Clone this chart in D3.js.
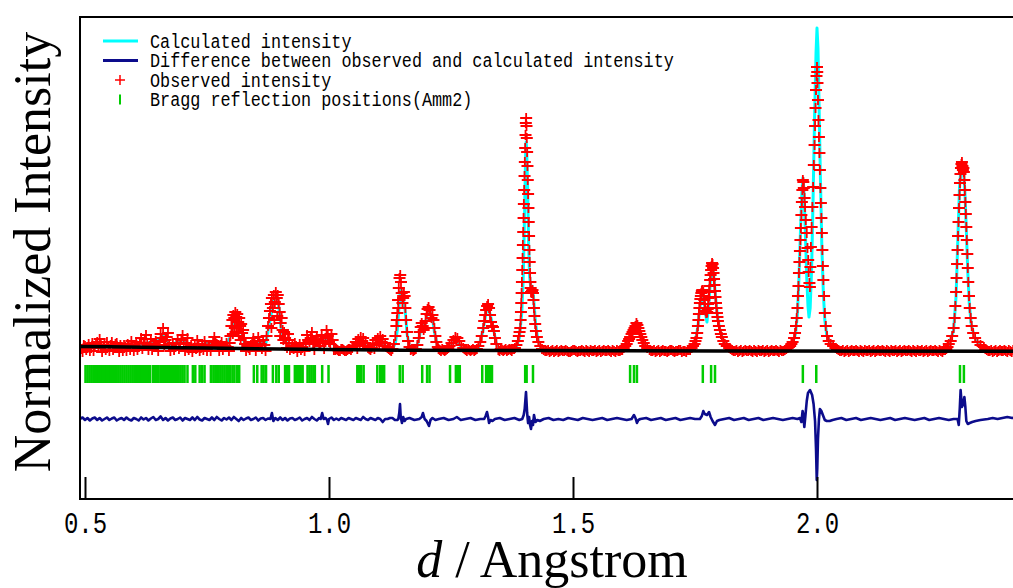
<!DOCTYPE html>
<html>
<head>
<meta charset="utf-8">
<script src="https://cdn.jsdelivr.net/npm/d3@7"></script>
<style>
	body { margin: 0; background: #fff; }
	svg { display: block; }
</style>
</head>
<body>
<script>
// [d (Angstrom), intensity]
var observed = [
	[0.490,0],[0.495,-4],[0.500,2],[0.505,1],[0.510,-3],[0.515,5],[0.520,1],[0.525,6],[0.530,9],[0.535,-4],
	[0.540,3],[0.545,6],[0.550,-3],[0.555,6],[0.560,2],[0.565,5],[0.570,-4],[0.575,1],[0.580,3],[0.585,-3],
	[0.590,2],[0.595,7],[0.600,-3],[0.605,6],[0.610,1],[0.615,10],[0.620,5],[0.625,13],[0.630,-2],[0.635,9],
	[0.640,2],[0.645,7],[0.650,-3],[0.655,14],[0.660,20],[0.665,8],[0.670,15],[0.675,-3],[0.680,5],[0.685,1],
	[0.690,9],[0.695,4],[0.700,13],[0.705,-3],[0.710,10],[0.715,0],[0.720,-4],[0.725,3],[0.730,8],[0.735,-3],
	[0.740,3],[0.745,7],[0.750,-3],[0.755,2],[0.760,3],[0.765,11],[0.770,4],[0.775,-3],[0.780,6],[0.785,1],
	[0.790,5],[0.795,-3],
	[0.4925,-1],[0.4975,3],[0.5025,-2],[0.5075,4],[0.5125,0],[0.5175,-3],[0.5225,4],[0.5275,0],[0.5325,3],[0.5375,1],
	[0.5425,-2],[0.5475,2],[0.5525,3],[0.5575,-2],[0.5625,4],[0.5675,0],[0.5725,3],[0.5775,-3],[0.5825,1],[0.5875,4],
	[0.5925,-2],[0.5975,3],[0.6025,1],[0.6075,-2],[0.6125,5],[0.6175,-1],[0.6225,9],[0.6275,4],[0.6325,2],[0.6375,-2],
	[0.6425,4],[0.6475,1],[0.6525,6],[0.6575,10],[0.6625,3],[0.6675,11],[0.6725,4],[0.6775,1],[0.6825,-2],[0.6875,5],
	[0.6925,-1],[0.6975,8],[0.7025,4],[0.7075,5],[0.7125,-2],[0.7175,3],[0.7225,0],[0.7275,-1],[0.7325,4],[0.7375,0],
	[0.7425,-2],[0.7475,3],[0.7525,1],[0.7575,-3],[0.7625,7],[0.7675,6],[0.7725,1],[0.7775,3],[0.7825,-2],[0.7875,2],
	[0.7925,1],[0.7965,5],
	[0.798,12],[0.800,22],[0.802,28],[0.803,14],[0.804,33],[0.806,30],[0.807,20],[0.808,36],[0.810,31],[0.811,16],
	[0.812,34],[0.814,26],[0.815,12],[0.816,30],[0.818,22],[0.819,8],[0.820,24],[0.822,15],[0.824,18],[0.826,10],
	[0.828,4],[0.830,-3],[0.835,0],[0.840,3],[0.845,10],[0.850,-3],[0.855,11],[0.860,4],[0.865,8],[0.870,-3],
	[0.8325,2],[0.8375,-2],[0.8425,6],[0.8475,4],[0.8525,2],[0.8575,7],[0.8625,-1],[0.8675,3],
	[0.872,12],[0.875,22],[0.877,30],[0.879,37],[0.881,44],[0.882,20],[0.883,50],[0.885,40],[0.887,53],[0.888,28],
	[0.889,46],[0.891,56],[0.893,50],[0.894,32],[0.895,53],[0.897,44],[0.899,36],[0.900,12],[0.901,25],[0.903,30],
	[0.905,18],[0.908,16],[0.912,5],[0.916,14],[0.920,-2],[0.925,2],[0.930,5],[0.935,-4],[0.940,4],[0.945,1],
	[0.950,-3],[0.955,13],[0.960,6],[0.965,16],[0.970,-2],[0.975,12],[0.980,5],[0.985,13],[0.990,-1],[0.995,18],
	[1.000,6],[1.005,14],[1.010,-2],
	[0.9065,8],[0.910,10],[0.914,0],[0.918,8],[0.9225,0],[0.9275,-1],[0.9325,2],[0.9375,0],[0.9425,-2],[0.9475,4],
	[0.9525,5],[0.9575,8],[0.9625,10],[0.9675,4],[0.9725,6],[0.9775,8],[0.9825,2],[0.9875,7],[0.9925,10],[0.9975,12],
	[1.0025,4],[1.0075,8],
	[1.015,-1],[1.020,-3],[1.025,-1],[1.030,-2],[1.035,-3],[1.040,-1],[1.045,-2],
	[1.0125,-2],[1.0175,-2],[1.0225,-3],[1.0275,-1],[1.0325,-3],[1.0375,-2],[1.0425,-1],[1.0475,0],
	[1.050,2],[1.055,6],[1.058,-1],[1.060,9],[1.063,4],[1.065,11],[1.068,7],[1.070,10],[1.073,2],[1.075,5],
	[1.080,0],[1.085,-2],[1.0825,-1],[1.0875,0],
	[1.090,3],[1.093,-1],[1.095,8],[1.098,4],[1.100,10],[1.103,5],[1.105,12],[1.108,6],[1.110,9],[1.113,2],
	[1.115,5],[1.120,0],[1.125,-2],[1.130,-1],[1.1225,-1],[1.1275,-3],
	[1.133,4],[1.136,12],[1.138,22],[1.139,28],[1.140,35],[1.1415,48],[1.142,40],[1.143,60],[1.1445,70],[1.146,73],
	[1.1475,66],[1.149,55],[1.1505,45],[1.152,50],[1.1535,56],[1.155,52],[1.1565,40],[1.158,28],[1.160,16],[1.162,7],
	[1.165,1],[1.170,-1],[1.175,-2],[1.1675,-2],[1.1725,-3],[1.178,-1],
	[1.181,3],[1.184,10],[1.186,16],[1.188,21],[1.190,25],[1.192,22],[1.194,18],[1.196,20],[1.198,27],[1.200,34],
	[1.202,39],[1.204,41],[1.206,38],[1.208,33],[1.210,30],[1.212,33],[1.214,28],[1.216,20],[1.218,12],[1.220,6],
	[1.223,1],[1.227,-2],[1.232,-1],[1.237,-3],[1.242,-1],
	[1.2245,-1],[1.2295,-3],[1.2345,-2],[1.2395,-2],[1.2445,0],
	[1.247,2],[1.251,5],[1.255,8],[1.259,11],[1.263,10],[1.267,7],[1.271,3],[1.275,0],
	[1.280,-2],[1.285,-1],[1.290,-3],[1.295,-1],[1.300,-2],
	[1.2775,-1],[1.2825,-3],[1.2875,-2],[1.2925,-2],[1.2975,-3],[1.303,-1],
	[1.306,2],[1.310,6],[1.313,12],[1.316,20],[1.318,27],[1.320,33],[1.322,38],[1.324,42],[1.326,44],[1.328,40],
	[1.330,33],[1.332,26],[1.334,22],[1.336,21],[1.338,17],[1.340,10],[1.343,4],
	[1.347,-2],[1.352,-1],[1.357,-3],[1.362,-1],[1.367,-2],[1.372,-2],[1.377,-1],
	[1.3495,-3],[1.3545,-2],[1.3595,-2],[1.3645,-3],[1.3695,-1],[1.3745,-3],[1.3795,-1],
	[1.381,0],[1.384,3],[1.387,7],[1.389,12],[1.3905,16],
	[1.392,20],[1.3927,28],[1.3933,36],[1.394,45],[1.3947,55],[1.3953,66],[1.396,78],[1.3967,90],[1.3973,103],[1.398,116],
	[1.3987,130],[1.3993,144],[1.400,158],[1.4007,172],[1.4013,186],[1.402,200],[1.4027,213],[1.4033,225],[1.404,230],
	[1.4047,222],[1.4053,210],[1.406,196],[1.4067,182],[1.4073,168],[1.408,154],[1.4087,140],[1.4093,126],[1.410,112],
	[1.4107,98],[1.4113,86],[1.412,75],[1.4127,66],[1.4133,60],[1.414,56],[1.415,55],[1.416,57],[1.417,58],[1.418,55],
	[1.419,48],[1.420,40],[1.421,32],[1.4225,24],[1.424,17],[1.426,11],[1.429,6],[1.433,2],[1.4365,-1],
	[1.440,-2],[1.446,-3],[1.452,-4],[1.458,-2],[1.464,-3],[1.470,-4],[1.476,-2],[1.482,-3],[1.488,-3],[1.494,-4],
	[1.500,-2],[1.506,-3],[1.512,-3],[1.518,-2],[1.524,-4],[1.530,-3],[1.536,-2],[1.542,-3],[1.548,-4],[1.554,-2],
	[1.560,-3],[1.566,-3],[1.572,-2],[1.578,-4],[1.584,-3],[1.590,-2],[1.596,-3],[1.601,-2],
	[1.443,-3],[1.449,-2],[1.455,-3],[1.461,-4],[1.467,-2],[1.473,-3],[1.479,-3],[1.485,-2],[1.491,-4],[1.497,-3],
	[1.503,-2],[1.509,-4],[1.515,-3],[1.521,-3],[1.527,-2],[1.533,-4],[1.539,-3],[1.545,-2],[1.551,-3],[1.557,-4],
	[1.563,-2],[1.569,-3],[1.575,-3],[1.581,-2],[1.587,-4],[1.593,-3],[1.5985,-2],
	[1.604,0],[1.607,2],[1.610,4],[1.613,7],[1.615,9],[1.617,11],[1.620,14],[1.622,16],[1.624,18],[1.626,20],
	[1.628,22],[1.630,25],[1.632,23],[1.634,20],[1.636,17],[1.638,14],[1.640,11],[1.642,8],[1.645,5],[1.648,2],
	[1.652,0],
	[1.657,-2],[1.663,-3],[1.669,-4],[1.675,-2],[1.681,-3],[1.687,-3],[1.693,-4],[1.699,-2],[1.705,-3],[1.711,-3],
	[1.717,-2],[1.723,-4],[1.729,-3],[1.735,-2],[1.740,-2],
	[1.660,-3],[1.666,-2],[1.672,-3],[1.678,-4],[1.684,-2],[1.690,-3],[1.696,-3],[1.702,-2],[1.708,-4],[1.714,-3],
	[1.720,-2],[1.726,-3],[1.732,-4],[1.7375,-2],
	[1.743,0],[1.746,2],[1.749,4],[1.751,7],[1.753,10],[1.7545,15],[1.756,22],[1.757,28],[1.758,34],[1.759,40],
	[1.760,45],[1.761,49],[1.762,52],[1.763,55],[1.764,57],[1.765,58],[1.766,58],[1.767,56],[1.768,52],[1.769,48],
	[1.770,44],[1.771,40],[1.772,37],[1.773,35],[1.774,35],[1.775,36],[1.776,39],[1.777,44],[1.778,50],[1.779,56],
	[1.780,62],[1.781,68],[1.782,73],[1.783,78],[1.784,82],[1.785,85],[1.786,84],[1.787,80],[1.788,75],[1.789,69],
	[1.790,63],[1.791,57],[1.792,51],[1.793,45],[1.794,40],[1.795,35],[1.796,31],[1.797,27],[1.799,22],[1.801,18],
	[1.803,14],[1.805,11],[1.808,7],[1.811,4],[1.815,2],[1.820,0],
	[1.826,-2],[1.832,-3],[1.838,-4],[1.844,-2],[1.850,-3],[1.856,-3],[1.862,-2],[1.868,-4],[1.874,-3],[1.880,-2],
	[1.886,-3],[1.892,-4],[1.898,-2],[1.904,-3],[1.910,-3],[1.916,-2],[1.922,-4],[1.928,-3],[1.934,-2],[1.940,0],
	[1.945,2],
	[1.823,-1],[1.829,-3],[1.835,-2],[1.841,-3],[1.847,-4],[1.853,-2],[1.859,-3],[1.865,-3],[1.871,-2],[1.877,-4],
	[1.883,-3],[1.889,-2],[1.895,-3],[1.901,-4],[1.907,-2],[1.913,-3],[1.919,-3],[1.925,-2],[1.931,-3],[1.937,-1],
	[1.9425,1],[1.9475,4],
	[1.950,6],[1.953,10],[1.955,15],[1.957,22],[1.9585,30],[1.960,40],[1.961,52],[1.962,62],[1.963,75],[1.964,86],
	[1.965,97],[1.966,108],[1.967,120],[1.968,133],[1.969,146],[1.970,158],[1.971,168],[1.972,166],[1.973,160],[1.9745,150],
	[1.9755,141],[1.977,128],[1.979,115],[1.9805,100],[1.982,88],[1.983,76],[1.9845,65],
	[1.9855,61],[1.9865,81],[1.9875,101],[1.989,121],[1.9905,141],[1.992,161],[1.9935,183],[1.995,203],[1.996,222],[1.997,240],
	[1.998,258],[1.999,272],[2.000,281],[2.0005,276],[2.001,265],[2.002,248],[2.003,228],[2.004,211],[2.005,195],[2.006,178],
	[2.007,160],[2.008,145],[2.009,130],[2.010,115],[2.011,98],[2.012,82],[2.013,68],[2.0145,52],[2.016,35],[2.018,22],
	[2.0205,12],[2.024,7],[2.028,4],[2.033,2],[2.038,0],
	[2.044,-2],[2.050,-3],[2.056,-4],[2.062,-2],[2.068,-3],[2.074,-3],[2.080,-2],[2.086,-4],[2.092,-3],[2.098,-2],
	[2.104,-3],[2.110,-4],[2.116,-2],[2.122,-3],[2.128,-3],[2.134,-2],[2.140,-4],[2.146,-3],[2.152,-2],[2.158,-3],
	[2.164,-4],[2.170,-2],[2.176,-3],[2.182,-3],[2.188,-2],[2.194,-4],[2.200,-3],[2.206,-2],[2.212,-3],[2.218,-4],
	[2.224,-2],[2.230,-3],[2.236,-3],[2.242,-2],[2.248,-4],[2.254,-3],[2.260,-2],[2.265,-1],
	[2.041,-1],[2.047,-3],[2.053,-2],[2.059,-3],[2.065,-4],[2.071,-2],[2.077,-3],[2.083,-3],[2.089,-2],[2.095,-4],
	[2.101,-3],[2.107,-2],[2.113,-3],[2.119,-4],[2.125,-2],[2.131,-3],[2.137,-3],[2.143,-2],[2.149,-4],[2.155,-3],
	[2.161,-2],[2.167,-3],[2.173,-4],[2.179,-2],[2.185,-3],[2.191,-3],[2.197,-2],[2.203,-4],[2.209,-3],[2.215,-2],
	[2.221,-3],[2.227,-4],[2.233,-2],[2.239,-3],[2.245,-3],[2.251,-2],[2.257,-4],[2.2625,-2],[2.2675,1],
	[2.270,4],[2.274,7],[2.277,12],[2.280,20],[2.282,30],[2.2835,42],[2.285,56],[2.286,70],[2.287,84],[2.288,98],
	[2.289,112],[2.290,126],[2.291,140],[2.292,153],[2.293,165],[2.294,174],[2.295,180],[2.296,184],[2.297,186],[2.298,182],
	[2.299,178],[2.300,180],[2.301,176],[2.302,168],[2.303,158],[2.304,146],[2.305,134],[2.306,121],[2.307,108],[2.308,94],
	[2.309,80],[2.310,66],[2.3115,52],[2.313,40],[2.315,30],[2.317,22],[2.320,15],[2.324,10],[2.329,6],[2.335,3],
	[2.342,1],
	[2.348,-2],[2.354,-3],[2.360,-4],[2.366,-2],[2.372,-3],[2.378,-3],[2.384,-2],[2.390,-4],[2.396,-3],[2.402,-2],
	[2.408,-3],[2.414,-4],[2.420,-2],
	[2.345,-1],[2.351,-3],[2.357,-2],[2.363,-3],[2.369,-4],[2.375,-2],[2.381,-3],[2.387,-3],[2.393,-2],[2.399,-4],
	[2.405,-3],[2.411,-2],[2.417,-3]
];

var calculated = [
	[0.489,1],[0.600,3],[0.640,6],[0.660,12],[0.675,3],[0.700,8],[0.720,2],[0.765,6],[0.790,3],[0.800,14],
	[0.808,30],[0.812,31],[0.818,22],[0.826,6],[0.835,1],[0.855,6],[0.870,3],[0.880,30],[0.887,48],[0.891,52],
	[0.896,46],[0.902,20],[0.908,8],[0.920,2],[0.940,2],[0.965,8],[0.985,8],[1.005,8],[1.015,-1],[1.045,-2],
	[1.055,3],[1.067,8],[1.080,-1],[1.090,1],[1.105,9],[1.120,-1],[1.130,-1],[1.136,5],[1.140,18],[1.143,38],
	[1.146,56],[1.148,58],[1.150,48],[1.153,46],[1.156,38],[1.160,14],[1.165,1],[1.178,-2],[1.184,8],[1.190,24],
	[1.194,18],[1.198,26],[1.204,40],[1.208,35],[1.212,30],[1.216,16],[1.222,3],[1.228,-2],[1.245,-2],[1.259,9],
	[1.275,-2],[1.305,-2],[1.315,16],[1.322,36],[1.326,42],[1.330,34],[1.336,22],[1.342,6],[1.348,-2],[1.382,-2],
	[1.390,10],[1.395,35],[1.398,70],[1.401,140],[1.403,195],[1.404,206],[1.405,200],[1.407,160],[1.409,105],[1.411,72],
	[1.4135,60],[1.416,62],[1.419,52],[1.423,26],[1.428,8],[1.435,-1],[1.600,-3],[1.615,8],[1.631,22],[1.645,5],
	[1.655,-3],[1.740,-3],[1.750,4],[1.756,22],[1.760,40],[1.764,52],[1.767,54],[1.771,36],[1.7745,26],[1.778,42],
	[1.782,70],[1.785,82],[1.788,75],[1.792,52],[1.796,32],[1.801,18],[1.808,7],[1.818,0],[1.830,-3],[1.930,-3],
	[1.940,0],[1.950,5],[1.956,14],[1.960,35],[1.963,70],[1.966,115],[1.969,155],[1.971,170],[1.973,160],[1.976,118],
	[1.979,70],[1.9815,42],[1.9836,31],[1.986,40],[1.989,80],[1.992,150],[1.995,230],[1.998,295],[2.000,320],[2.002,300],
	[2.004,250],[2.007,170],[2.010,100],[2.013,55],[2.016,28],[2.020,13],[2.027,5],[2.035,0],[2.045,-3],[2.260,-3],
	[2.270,2],[2.280,18],[2.285,52],[2.289,115],[2.292,160],[2.295,180],[2.297,182],[2.300,178],[2.303,158],[2.306,118],
	[2.309,76],[2.312,45],[2.316,24],[2.322,12],[2.330,5],[2.342,0],[2.355,-3],[2.420,-3]
];

// obs - calc, drawn around diffOffset
var difference = [
	[0.489,0],[0.495,1.5],[0.500,-1],[0.505,1],[0.510,-1.5],[0.515,0.5],[0.520,1.5],[0.525,-1],[0.530,1],[0.535,-1.5],
	[0.540,0],[0.545,1.5],[0.550,-1],[0.555,0.5],[0.560,1.5],[0.565,-1.5],[0.570,0],[0.575,1],[0.580,-1],[0.585,1.5],
	[0.590,-0.5],[0.595,-1.5],[0.600,1],[0.605,0],[0.610,-1.5],[0.615,1.5],[0.620,-0.5],[0.625,1],[0.630,-1.5],[0.635,0.5],
	[0.640,2],[0.645,-1],[0.650,0],[0.655,2.5],[0.660,-1],[0.665,1],[0.670,-1.5],[0.675,0.5],[0.680,1.5],[0.685,-1],
	[0.690,0],[0.695,1.5],[0.700,-1.5],[0.705,1],[0.710,0],[0.715,-1],[0.720,1.5],[0.725,-1],[0.730,2],[0.735,-0.5],
	[0.740,-1.5],[0.745,1],[0.750,0],[0.755,-1],[0.760,1.5],[0.765,-1],[0.770,2],[0.775,0],[0.780,-1.5],[0.785,1],
	[0.790,-0.5],[0.795,1.5],[0.800,-1],[0.805,2],[0.810,0],[0.815,-2],[0.820,1],[0.825,-1],[0.830,0.5],[0.835,1.5],
	[0.840,-1],[0.845,0],[0.850,1.5],[0.855,-1.5],[0.860,0.5],[0.865,1],[0.870,-1],[0.875,0.5],[0.880,0],[0.883,6],
	[0.886,-2],[0.890,1],[0.895,-1],[0.900,1.5],[0.905,-1],[0.910,1],[0.915,-1.5],[0.920,0.5],[0.925,1],[0.930,-1],
	[0.935,0],[0.940,1.5],[0.945,-1.5],[0.950,0],[0.955,1],[0.960,-1],[0.965,2],[0.970,0],[0.975,-1.5],[0.980,1],
	[0.983,0],[0.986,6],[0.989,0],[0.993,1],[0.996,-1],[0.998,-5],[1.000,0],[1.005,1.5],[1.010,-1],[1.015,0.5],
	[1.020,-1],[1.025,1],[1.030,0],[1.035,-1],[1.040,1],[1.045,0],[1.050,-1],[1.055,1],[1.060,0],[1.065,-1],
	[1.070,2],[1.075,0],[1.080,-1],[1.085,1],[1.090,0],[1.095,-1],[1.100,1],[1.105,0],[1.110,-3],[1.115,0],
	[1.120,0],[1.125,1],[1.130,1],[1.135,-1],[1.140,-1],[1.142,0],[1.144,6],[1.1455,15],[1.147,2],[1.1495,-4],
	[1.152,2],[1.155,-2],[1.158,0],[1.165,1],[1.175,-1],[1.185,0],[1.190,2],[1.1926,6],[1.196,0],[1.200,-2],
	[1.2049,-7],[1.208,-1],[1.212,1],[1.218,-1],[1.225,0],[1.235,1],[1.245,-1],[1.255,0],[1.262,2],[1.270,-1],
	[1.280,0],[1.290,1],[1.300,-1],[1.310,0],[1.318,0],[1.321,3],[1.3238,7],[1.326,2],[1.328,-4],[1.331,-1],
	[1.335,-2],[1.340,0],[1.350,1],[1.360,-1],[1.370,0],[1.380,1],[1.390,-1],[1.396,0],[1.399,4],[1.401,10],
	[1.4037,27],[1.406,6],[1.408,-4],[1.410,2],[1.412,-6],[1.4139,-10],[1.416,-2],[1.418,-6],[1.4201,4],[1.423,-3],
	[1.427,-1],[1.432,-2],[1.440,0],[1.450,1],[1.460,-1],[1.470,0],[1.480,-1],[1.490,1],[1.500,0],[1.510,-1],
	[1.520,1],[1.530,0],[1.540,-1],[1.550,0],[1.560,1],[1.570,-1],[1.580,0],[1.590,1],[1.600,0],[1.610,-1],
	[1.620,0],[1.625,4],[1.628,1],[1.631,-4],[1.634,-1],[1.638,0],[1.650,1],[1.660,-1],[1.670,0],[1.680,1],
	[1.690,-1],[1.700,0],[1.710,1],[1.720,-1],[1.730,0],[1.740,1],[1.750,0],[1.760,0],[1.764,3],[1.767,8],
	[1.770,5],[1.7746,4],[1.7787,7],[1.782,2],[1.786,-2],[1.791,-6],[1.795,-2],[1.800,-1],[1.810,0],[1.820,1],
	[1.830,-1],[1.840,0],[1.850,1],[1.860,-1],[1.870,0],[1.880,1],[1.890,-1],[1.900,0],[1.910,1],[1.920,0],
	[1.930,-1],[1.940,0],[1.950,1],[1.960,0],[1.965,1],[1.968,-3],[1.9705,8],[1.972,4],[1.974,-8],[1.976,2],
	[1.979,18],[1.9815,26],[1.9857,29],[1.990,24],[1.993,15],[1.996,-2],[1.998,-30],[1.9995,-61],[2.0005,-50],[2.002,-20],
	[2.004,0],[2.006,10],[2.009,8],[2.012,4],[2.016,-1],[2.020,-2],[2.026,-2],[2.032,-1],[2.040,0],[2.050,1],
	[2.060,-1],[2.070,0],[2.080,1],[2.090,-1],[2.100,0],[2.110,1],[2.120,0],[2.130,-1],[2.140,0],[2.150,1],
	[2.160,-1],[2.170,0],[2.180,1],[2.190,0],[2.200,-1],[2.210,0],[2.220,1],[2.230,-1],[2.240,0],[2.250,1],
	[2.260,0],[2.270,-1],[2.280,0],[2.288,0],[2.2905,-6],[2.2925,10],[2.2943,29],[2.297,12],[2.299,14],[2.302,22],
	[2.304,12],[2.306,-2],[2.309,-5],[2.313,-4],[2.318,-3],[2.325,-2],[2.335,-1],[2.350,0],[2.360,1],[2.370,0],
	[2.380,1],[2.390,2],[2.400,1],[2.410,2],[2.420,2]
];

var background = [
	[0.489,1.5],[0.550,1.2],[0.650,0.5],[0.750,0],[0.850,-0.8],[1.000,-1.5],[1.150,-2.2],[1.400,-2.6],[1.800,-3],[2.420,-3.2]
];

var braggPositions = [
	0.501,0.505,0.509,0.513,0.517,0.521,0.525,0.529,0.533,0.537,0.541,0.545,0.549,0.553,0.557,0.561,0.565,0.569,0.573,0.577,
	0.581,0.585,0.589,0.593,0.597,0.601,0.605,0.609,0.613,0.617,0.621,0.625,0.629,0.633,
	0.639,0.643,0.647,0.651,
	0.656,0.660,0.664,0.668,0.672,0.676,0.680,0.684,0.688,0.692,0.696,0.700,
	0.704,0.710,0.721,0.726,0.735,0.740,0.745,0.758,0.763,0.767,0.771,
	0.774,0.778,0.782,0.786,0.790,0.793,0.797,0.802,0.806,0.811,0.816,
	0.846,0.853,0.862,0.866,0.871,0.885,0.892,0.897,0.910,0.914,0.918,0.930,0.934,0.938,0.942,0.946,
	0.956,0.960,0.964,0.968,0.971,0.986,0.999,
	1.058,1.062,1.066,1.071,1.099,1.105,1.109,1.113,1.145,1.151,1.191,1.201,1.206,1.248,1.260,1.264,1.268,
	1.314,1.322,1.326,1.330,1.334,1.402,1.405,1.418,
	1.617,1.625,1.631,1.766,1.783,1.791,1.971,1.9985,2.293,2.301
];

var xTicks = [0.5, 1.0, 1.5, 2.0];
var legendLabels = [
	"Calculated intensity",
	"Difference between observed and calculated intensity",
	"Observed intensity",
	"Bragg reflection positions(Amm2)"
];
var diffOffset = -71;
var braggBand = [-17, -35];

var width = 1013, height = 588;
var frame = {left: 80, top: 17, right: 1040, bottom: 499};

var x = d3.scaleLinear().domain([0.5, 2.0]).range([85, 817]),
		y = d3.scaleLinear().domain([-151, 331]).range([frame.bottom, frame.top]);

var svg = d3.select("body").append("svg")
	.attr("width", width)
	.attr("height", height);

svg.append("defs").append("clipPath")
		.attr("id", "clip")
	.append("rect")
		.attr("x", frame.left)
		.attr("y", frame.top)
		.attr("width", frame.right - frame.left)
		.attr("height", frame.bottom - frame.top);

var plot = svg.append("g")
	.attr("clip-path", "url(#clip)");

var line = d3.line()
	.x(function(d) { return x(d[0]); })
	.y(function(d) { return y(d[1]); });

// calculated profile
plot.append("path")
	.datum(calculated)
	.attr("fill", "none")
	.attr("stroke", "#00ffff")
	.attr("stroke-width", 3)
	.attr("stroke-linejoin", "round")
	.attr("d", line);

// observed points as + marks
plot.append("g")
	.selectAll("path")
	.data(observed)
	.join("path")
		.attr("transform", function(d) { return "translate(" + x(d[0]) + "," + y(d[1]) + ")"; })
		.attr("d", "M-6,0H6M0,-5V5")
		.attr("fill", "none")
		.attr("stroke", "#ff0000")
		.attr("stroke-width", 1.8);

plot.append("path")
	.datum(background)
	.attr("fill", "none")
	.attr("stroke", "#000")
	.attr("stroke-width", 3.5)
	.attr("d", line);

plot.append("g")
	.selectAll("line")
	.data(braggPositions)
	.join("line")
		.attr("x1", function(d) { return x(d); })
		.attr("x2", function(d) { return x(d); })
		.attr("y1", y(braggBand[0]))
		.attr("y2", y(braggBand[1]))
		.attr("stroke", "#00cc00")
		.attr("stroke-width", 2.5);

plot.append("path")
	.datum(difference)
	.attr("fill", "none")
	.attr("stroke", "#0c0c8c")
	.attr("stroke-width", 2.6)
	.attr("stroke-linejoin", "round")
	.attr("d", d3.line()
		.x(function(d) { return x(d[0]); })
		.y(function(d) { return y(diffOffset + d[1]); }));

// frame
svg.append("rect")
	.attr("x", frame.left)
	.attr("y", frame.top)
	.attr("width", frame.right - frame.left)
	.attr("height", frame.bottom - frame.top)
	.attr("fill", "none")
	.attr("stroke", "#000")
	.attr("stroke-width", 2);

var xAxis = d3.axisBottom(x)
	.tickValues(xTicks)
	.tickSizeInner(-22)
	.tickSizeOuter(0)
	.tickFormat(d3.format(".1f"));

var axisG = svg.append("g")
	.attr("transform", "translate(0," + frame.bottom + ")")
	.call(xAxis);
axisG.select(".domain").remove();
axisG.selectAll(".tick line")
	.attr("stroke", "#000")
	.attr("stroke-width", 2);
axisG.selectAll(".tick text")
	.attr("y", 0)
	.attr("dy", 0)
	.attr("transform", "translate(0,34) scale(0.8,1)")
	.attr("fill", "#000")
	.style("font-family", "'Liberation Mono', 'DejaVu Sans Mono', monospace")
	.style("font-size", "30px");

// legend
var legend = svg.append("g")
	.attr("transform", "translate(0,41)");
var rowGap = 19.5;

legend.append("line")
	.attr("x1", 103).attr("x2", 138)
	.attr("y1", 0).attr("y2", 0)
	.attr("stroke", "#00ffff").attr("stroke-width", 3);
legend.append("line")
	.attr("x1", 103).attr("x2", 138)
	.attr("y1", rowGap).attr("y2", rowGap)
	.attr("stroke", "#0c0c8c").attr("stroke-width", 3);
legend.append("path")
	.attr("transform", "translate(120," + (rowGap * 2) + ")")
	.attr("d", "M-5,0H5M0,-5V5")
	.attr("fill", "none")
	.attr("stroke", "#ff0000")
	.attr("stroke-width", 1.5);
legend.append("line")
	.attr("x1", 120).attr("x2", 120)
	.attr("y1", rowGap * 3 - 5).attr("y2", rowGap * 3 + 5)
	.attr("stroke", "#00cc00").attr("stroke-width", 2);

legend.selectAll("text")
	.data(legendLabels)
	.join("text")
		.attr("transform", function(d, i) { return "translate(150," + (i * rowGap + 6.5) + ") scale(0.8,1)"; })
		.style("font-family", "'Liberation Mono', 'DejaVu Sans Mono', monospace")
		.style("font-size", "21px")
		.attr("fill", "#000")
		.text(function(d) { return d; });

// axis titles
svg.append("text")
	.attr("transform", "translate(50,252) rotate(-90)")
	.attr("text-anchor", "middle")
	.style("font-family", "'Liberation Serif', 'Times New Roman', serif")
	.style("font-size", "52px")
	.text("Normalized Intensity");

var xTitle = svg.append("text")
	.attr("x", 552)
	.attr("y", 577)
	.attr("text-anchor", "middle")
	.style("font-family", "'Liberation Serif', 'Times New Roman', serif")
	.style("font-size", "52px");
xTitle.append("tspan")
	.style("font-style", "italic")
	.text("d");
xTitle.append("tspan")
	.text(" / Angstrom");
</script>
</body>
</html>
